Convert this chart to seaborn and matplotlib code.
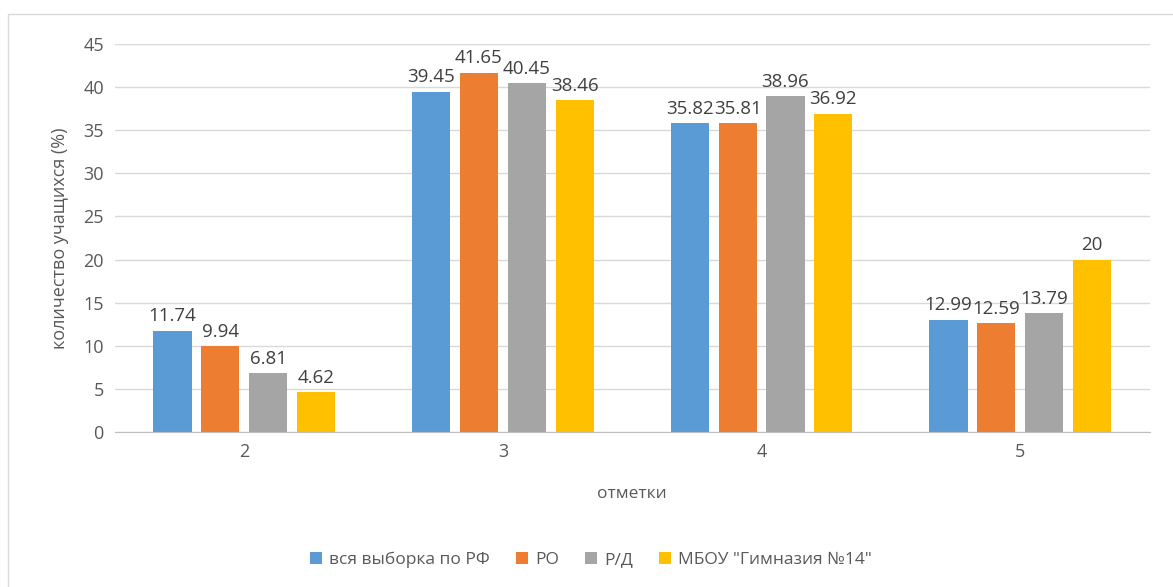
import pandas as pd
import seaborn as sns
import matplotlib.pyplot as plt
from matplotlib.patches import Rectangle

marks = ["2", "3", "4", "5"]
groups = ["вся выборка по РФ", "РО", "Р/Д", "МБОУ \"Гимназия №14\""]
rf = [11.74, 39.45, 35.82, 12.99]
ro = [9.94, 41.65, 35.81, 12.59]
rd = [6.81, 40.45, 38.96, 13.79]
school = [4.62, 38.46, 36.92, 20]
labels = [["11.74", "39.45", "35.82", "12.99"],
          ["9.94", "41.65", "35.81", "12.59"],
          ["6.81", "40.45", "38.96", "13.79"],
          ["4.62", "38.46", "36.92", "20"]]
colors = ["#5B9BD5", "#ED7D31", "#A5A5A5", "#FFC000"]

rows = []
for g, vals in zip(groups, [rf, ro, rd, school]):
    for m, v in zip(marks, vals):
        rows.append({"mark": m, "group": g, "value": v})
df = pd.DataFrame(rows)

sns.set_style("white")
plt.rcParams['font.family'] = ['Open Sans', 'DejaVu Sans']

fig = plt.figure(figsize=(11.73, 5.87), dpi=100)
ax = fig.add_axes([0.098, 0.264, 0.882, 0.661])

sns.barplot(data=df, x="mark", y="value", hue="group", palette=colors,
            saturation=1, width=0.74, gap=0.2, linewidth=0, ax=ax, legend=True)

for cont, lab in zip(ax.containers, labels):
    ax.bar_label(cont, labels=lab, padding=4, fontsize=13.5, color="#404040")

ax.set_ylim(0, 45)
ax.set_yticks(range(0, 46, 5))
ax.yaxis.grid(True, color="#D9D9D9", linewidth=1)
ax.set_axisbelow(True)
for s in ["top", "right", "left"]:
    ax.spines[s].set_visible(False)
ax.spines["bottom"].set_color("#BFBFBF")
ax.tick_params(axis="both", length=0, labelsize=13, labelcolor="#595959", pad=8)
ax.set_ylabel("количество учащихся (%)", fontsize=13, color="#595959", labelpad=10)
ax.set_xlabel("отметки", fontsize=12.5, color="#595959", labelpad=18)

ax.legend(loc="center", bbox_to_anchor=(0.46, -0.33), ncol=4, frameon=False,
          fontsize=12.5, handlelength=0.7, handleheight=0.7, handletextpad=0.4,
          columnspacing=1.5, labelcolor="#595959")

fig.patches.append(Rectangle((0.007, -0.01), 1.0, 0.987, transform=fig.transFigure,
                             fill=False, edgecolor="#D9D9D9", linewidth=1))

fig.savefig("out.png", dpi=100)
